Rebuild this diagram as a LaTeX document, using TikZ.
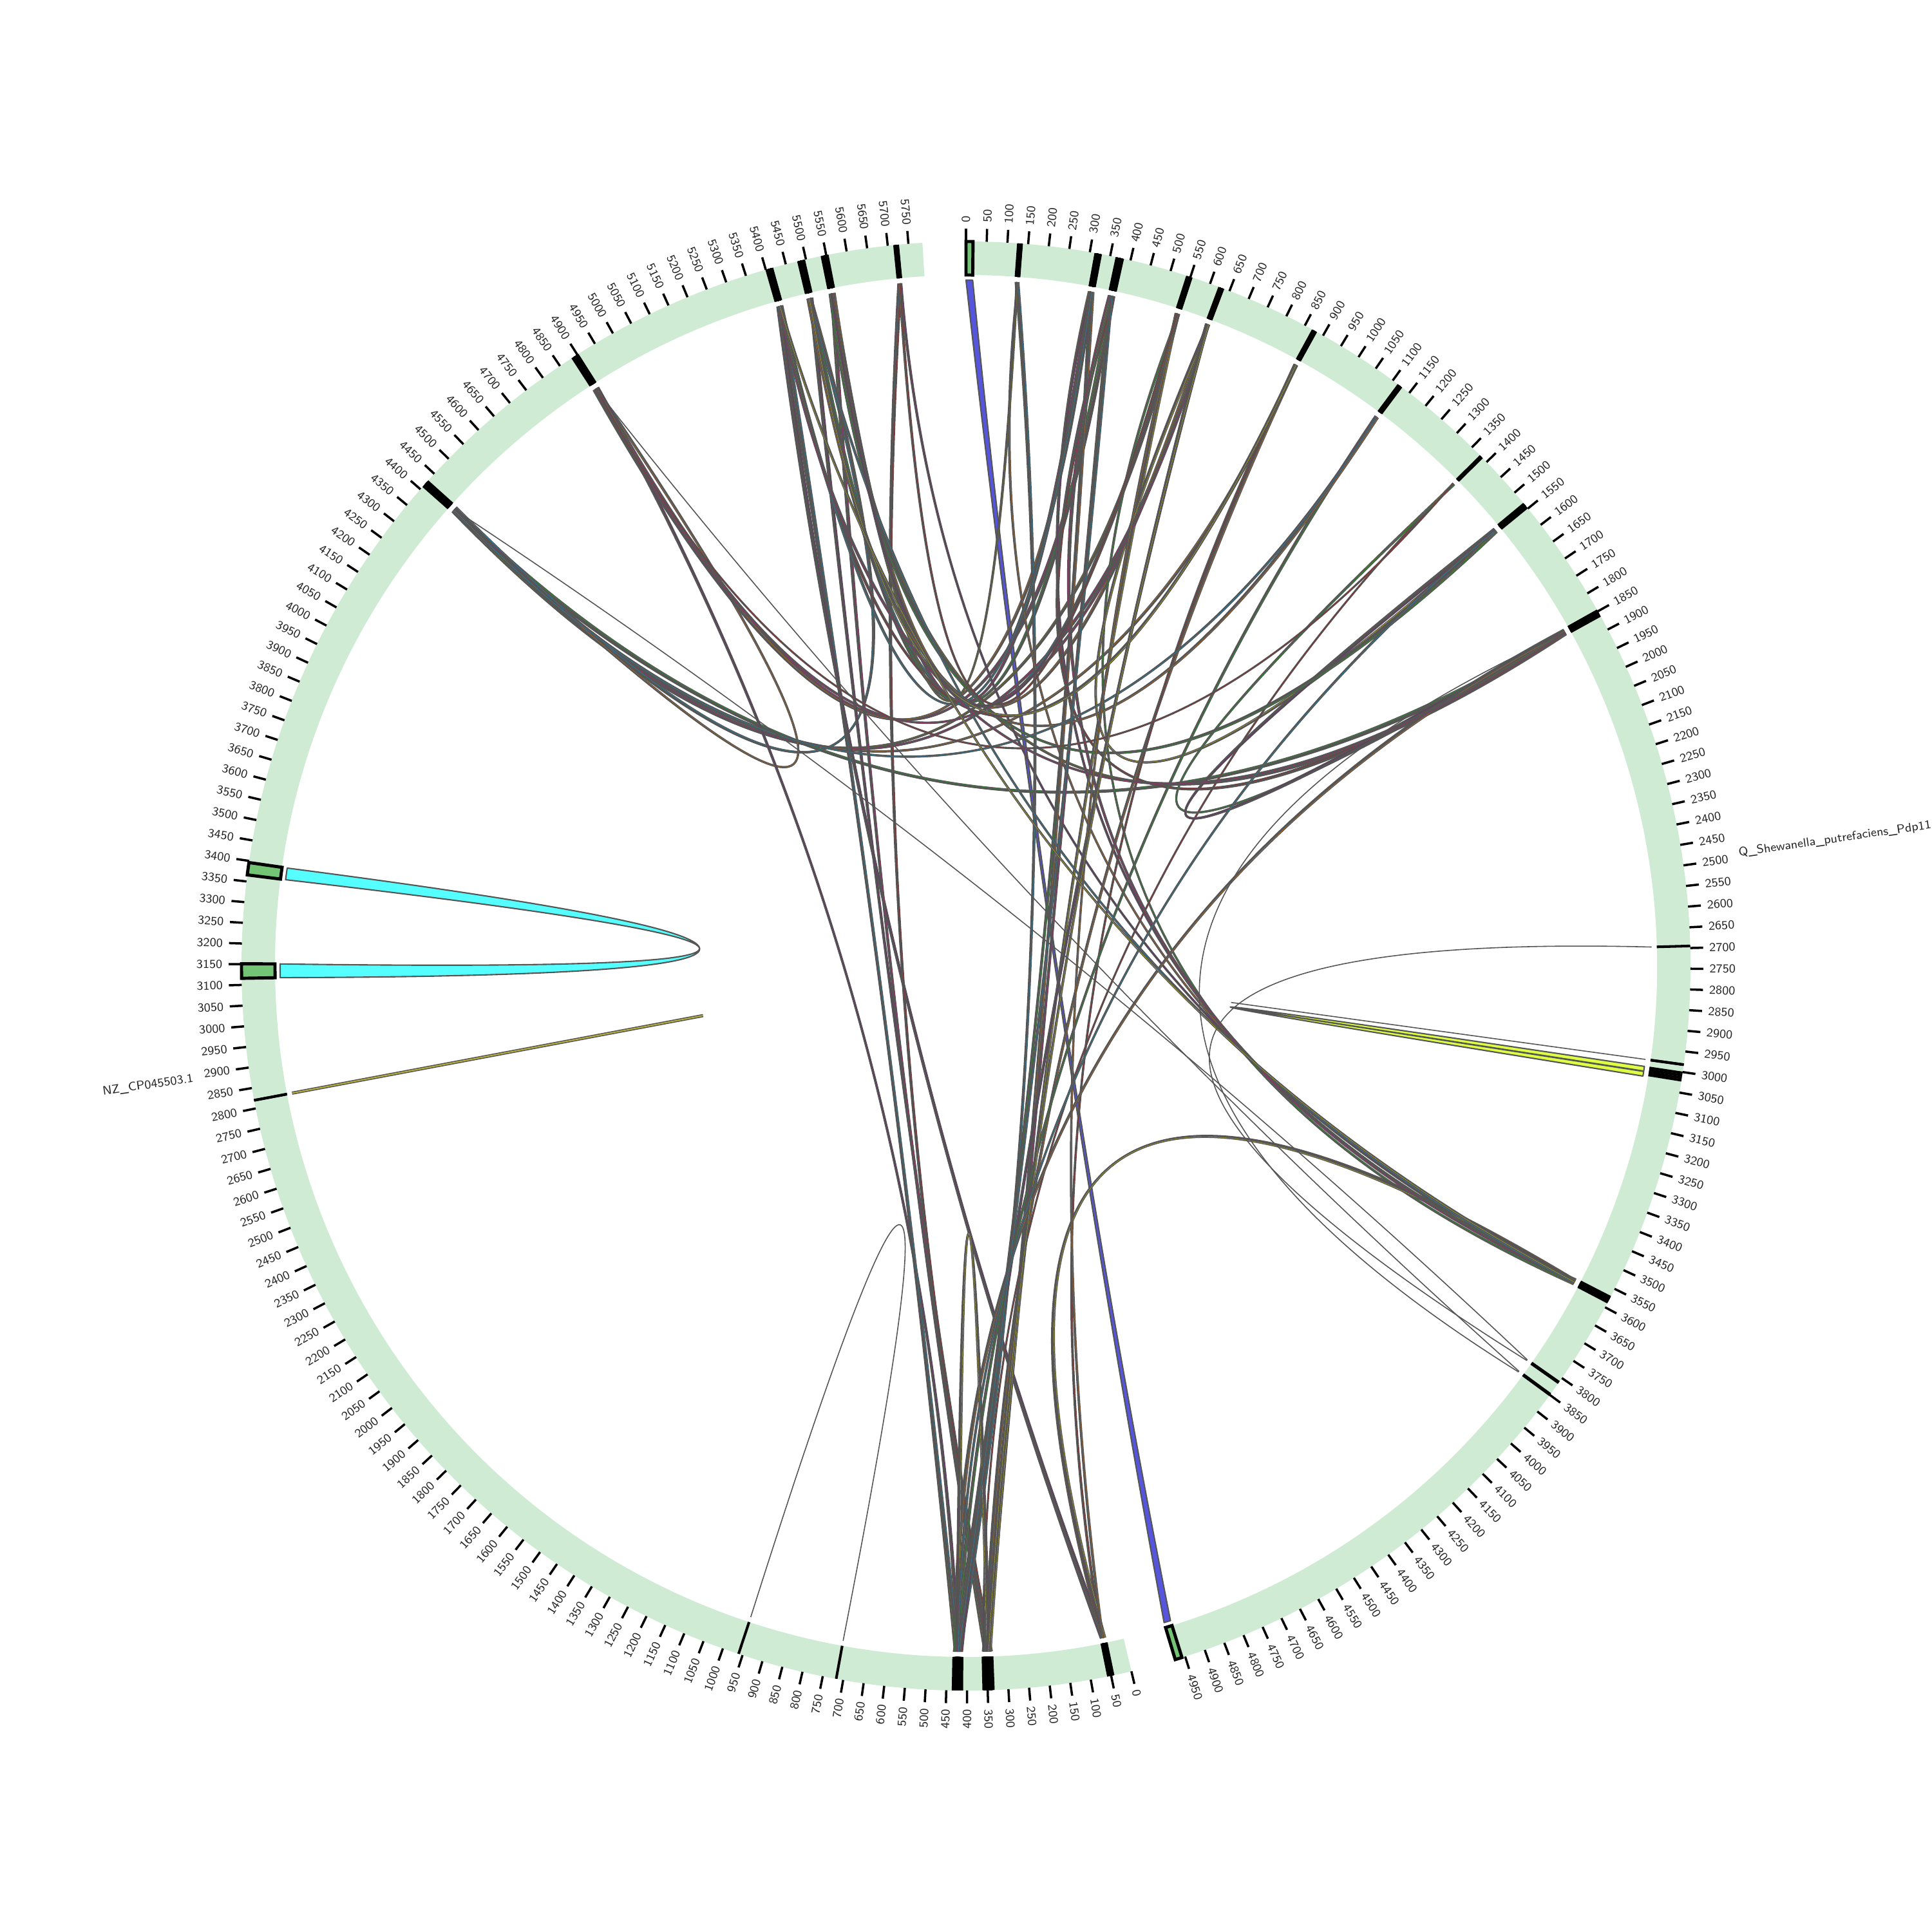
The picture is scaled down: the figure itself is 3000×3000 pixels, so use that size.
\documentclass[tikz,border=0pt]{standalone}
\usepackage{fontspec}
\usetikzlibrary{calc}
\definecolor{ringc}{RGB}{207,235,211}
\definecolor{boxc}{RGB}{116,196,118}
\definecolor{bluec}{RGB}{85,85,221}
\definecolor{cyanc}{RGB}{85,255,255}
\definecolor{greyc}{RGB}{85,85,85}
\definecolor{ylwc}{RGB}{221,255,68}
% position on a sector -> math angle
\newcommand\segang[3]{\if#1R\pgfmathsetmacro#3{90-0.0328*(#2)}\else\pgfmathsetmacro#3{-76.8-0.0328*(#2)}\fi}
% control point of a link between math angles #1 and #2 -> \bis, \Cr
\newcommand\ctl[2]{%
  \pgfmathsetmacro\bis{atan2(sin(#1)+sin(#2)+0.00001,cos(#1)+cos(#2))}%
  \pgfmathsetmacro\Cr{-0.387*532.5*veclen(sin(#1)+sin(#2),cos(#1)+cos(#2))+178}}
\newcommand\strand[3]{%
  \ctl{#1}{#2}%
  \draw[#3] (#1:1065) .. controls ($(#1:1065)!0.6667!(\bis:\Cr)$) and ($(#2:1065)!0.6667!(\bis:\Cr)$) .. (#2:1065);%
  \draw[markk] (#1:1073) -- (#1:1125);%
  \draw[markk] (#2:1073) -- (#2:1125);}
\newcommand\ribbon[5]{%
  \ctl{#2}{#3}\let\bisX\bis\let\CrX\Cr
  \ctl{#4}{#1}\let\bisY\bis\let\CrY\Cr
  \filldraw[fill=#5, draw=greyc, line width=0.6pt, line join=round] (#1:1065) arc[start angle=#1, end angle=#2, radius=1065]
     .. controls ($(#2:1065)!0.6667!(\bisX:\CrX)$) and ($(#3:1065)!0.6667!(\bisX:\CrX)$) .. (#3:1065)
     arc[start angle=#3, end angle=#4, radius=1065]
     .. controls ($(#4:1065)!0.6667!(\bisY:\CrY)$) and ($(#1:1065)!0.6667!(\bisY:\CrY)$) .. (#1:1065) -- cycle;}
\newcommand\gbox[2]{%
  \filldraw[fill=boxc, draw=black, line width=1.4pt] (#1:1125) arc[start angle=#1, end angle=#2, radius=1125] -- (#2:1073) arc[start angle=#2, end angle=#1, radius=1073] -- cycle;}
\tikzset{
  tickk/.style={black, line width=1pt},
  markk/.style={black, line width=1.15pt},
  chordk/.style={greyc, line width=0.42pt, double=#1, double distance=0.05pt},
  thinchord/.style={greyc, line width=0.45pt},
  ticklab/.style={font=\sffamily\fontsize{5.4}{6}\selectfont, inner sep=0pt, text=black!85},
}
\begin{document}
\begin{tikzpicture}[x=0.1mm, y=0.1mm]
\useasboundingbox (-1500,-1500) rectangle (1500,1500);
% ring segments
\fill[ringc] (90:1125) arc[start angle=90, end angle=-73.35, radius=1125] -- (-73.35:1073) arc[start angle=-73.35, end angle=90, radius=1073] -- cycle;
\fill[ringc] (-76.8:1125) arc[start angle=-76.8, end angle=-266.55, radius=1125] -- (-266.55:1073) arc[start angle=-266.55, end angle=-76.8, radius=1073] -- cycle;
% ticks right sector
\foreach \p in {0,50,...,4950}{
  \segang{R}{\p}{\a}
  \draw[tickk] (\a:1125) -- (\a:1145);
  \node[ticklab, anchor=west, rotate=\a] (tR\p) at (\a:1154) {\p};
}
% ticks left sector
\foreach \p in {0,50,...,5750}{
  \segang{L}{\p}{\a}
  \draw[tickk] (\a:1125) -- (\a:1145);
  \ifnum\p<400
    \node[ticklab, anchor=west, rotate=\a] (tL\p) at (\a:1154) {\p};
  \else
    \pgfmathsetmacro\rr{\a+180}
    \node[ticklab, anchor=east, rotate=\rr] (tL\p) at (\a:1154) {\p};
  \fi
}
% sector names
\node[ticklab, anchor=west, rotate=8.3] (nameR) at (8.3:1212) {Q\_Shewanella\_putrefaciens\_Pdp11};
\node[ticklab, anchor=east, rotate=8.3] (nameL) at (-171.7:1212) {NZ\_CP045503.1};
% blue ribbon (right 0-17 to 4958-4975), drawn under the links
\segang{R}{0}{\sA}\segang{R}{17}{\eA}\segang{R}{4958}{\sB}\segang{R}{4975}{\eB}
\ribbon{\sA}{\eA}{\sB}{\eB}{bluec}
% link bundles
\foreach \sa/\pa/\sb/\pb/\m [count=\i] in {
 L/4418/R/548/4, L/4414/R/629/4, L/4421/R/876/3, L/4417/R/1855/5, L/4422/L/5488/4, L/4413/L/4895/2,
 L/4895/R/373/5, L/4890/R/320/4, L/4898/L/423/3, L/5410/L/426/5, L/5407/L/52/5,
 L/5488/R/376/5, L/5485/R/548/4, L/5491/L/345/4, L/5546/R/320/5, L/5549/R/629/4,
 L/5543/R/1858/4, L/5547/L/352/4, L/5720/L/340/4, L/5723/R/3579/2,
 R/130/L/420/4, R/133/R/3582/2, R/320/L/430/4, R/323/L/356/4, R/317/R/3576/3,
 R/371/L/348/4, R/376/R/1852/4, R/546/L/343/4, R/551/R/3585/2, R/628/L/416/4,
 R/631/R/1540/3, R/876/L/350/4, R/879/L/55/2, R/1120/L/424/3, R/1123/L/5486/3,
 R/1380/L/357/1, R/1383/R/1860/2, R/1539/R/1855/4, R/1543/L/5544/4, R/1852/L/427/4,
 R/3579/L/50/5, R/3576/R/370/4, R/3582/L/5490/2, L/345/L/423/4,
 R/629/L/4895/3, R/876/L/5413/3, R/130/L/5546/2, R/320/L/5410/3, R/548/L/5546/3,
 R/876/L/5488/2, R/1120/L/4418/2, R/1380/L/4895/1, R/1855/L/5410/3, R/548/L/52/2,
 R/629/L/347/3, R/373/L/423/3, L/5720/R/548/2, R/3579/L/5410/2, R/1540/L/423/2}{
  \foreach \k in {1,...,\m}{
    \pgfmathsetmacro\off{(\k-(\m+1)/2)*2.4}
    \segang{\sa}{\pa+\off}{\aA}
    \segang{\sb}{\pb-\off}{\aB}
    \pgfmathtruncatemacro\ci{mod(\i*3+\k,8)}
    \ifcase\ci \def\cc{yellow}\or\def\cc{green!80!black}\or\def\cc{magenta}\or\def\cc{cyan}\or\def\cc{orange}\or\def\cc{red!80!black}\or\def\cc{violet}\or\def\cc{olive}\fi
    \strand{\aA}{\aB}{chordk=\cc}
  }
}
% thin single links
\foreach \sa/\pa/\sb/\pb in {R/2695/R/3814, L/4418/R/3812, R/3850/R/1856, R/3848/L/4893, L/717/L/960, R/2982/R/2982}{
  \segang{\sa}{\pa}{\aA}
  \segang{\sb}{\pb}{\aB}
  \strand{\aA}{\aB}{thinchord}
}
% self link on the left sector
\segang{L}{2820}{\aA}
\strand{\aA}{\aA}{greyc, line width=0.45pt, double=yellow!70!black, double distance=0.5pt}
% yellow self ribbon on the right sector
\segang{R}{3000}{\sA}\segang{R}{3012}{\eA}\segang{R}{3013}{\sB}\segang{R}{3025}{\eB}
\ribbon{\sA}{\eA}{\sB}{\eB}{ylwc}
\foreach \p in {3002,3008,3014,3020}{\segang{R}{\p}{\a}\draw[markk] (\a:1073) -- (\a:1125);}
% cyan ribbon (left 3116-3151 to 3366-3396)
\segang{L}{3116}{\sA}\segang{L}{3151}{\eA}\segang{L}{3366}{\sB}\segang{L}{3396}{\eB}
\ribbon{\sA}{\eA}{\sB}{\eB}{cyanc}
\gbox{\sA}{\eA}
\gbox{\sB}{\eB}
% green boxes at the blue ribbon ends
\segang{R}{0}{\sA}\segang{R}{17}{\eA}\segang{R}{4958}{\sB}\segang{R}{4975}{\eB}
\gbox{\sA}{\eA}
\gbox{\sB}{\eB}
\end{tikzpicture}
\end{document}
